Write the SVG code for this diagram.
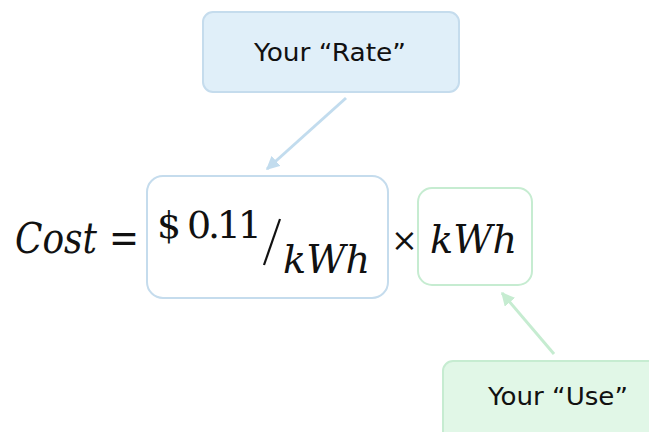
<svg xmlns="http://www.w3.org/2000/svg" width="649" height="432" viewBox="0 0 649 432">
<defs>
<style>
.lbl{font-family:"DejaVu Sans","Verdana",sans-serif;font-size:25px;fill:#111;text-anchor:middle}
.m{font-family:"DejaVu Serif","Liberation Serif",serif;fill:#111}
.mi{font-style:italic}
</style>
<marker id="ab" viewBox="0 0 10 10" refX="9" refY="5" markerWidth="4.5" markerHeight="4.5" orient="auto"><path d="M0,0 L10,5 L0,10 z" fill="#c2dcee"/></marker>
<marker id="ag" viewBox="0 0 10 10" refX="9" refY="5" markerWidth="4.5" markerHeight="4.5" orient="auto"><path d="M0,0 L10,5 L0,10 z" fill="#c6ecd1"/></marker>
</defs>
<rect width="649" height="432" fill="#fff"/>
<g id="rate">
<rect x="203" y="12" width="256" height="80" rx="10" fill="#e0eff9" stroke="#c5dced" stroke-width="2"/>
<text class="lbl" x="330" y="61" textLength="152" lengthAdjust="spacingAndGlyphs">Your “Rate”</text>
</g>
<g id="use">
<rect x="443" y="361" width="220" height="90" rx="10" fill="#e1f7e7" stroke="#c6ecd1" stroke-width="2"/>
<text class="lbl" x="558" y="405" textLength="140" lengthAdjust="spacingAndGlyphs">Your “Use”</text>
</g>
<g id="ratebox">
<rect x="147" y="176" width="241" height="122" rx="16" fill="none" stroke="#c5dced" stroke-width="2"/>
</g>
<g id="usebox">
<rect x="418" y="188" width="114" height="97" rx="14" fill="none" stroke="#c6ecd1" stroke-width="2"/>
</g>
<g id="equation">
<text class="m mi" x="15" y="253" font-size="42" textLength="82" lengthAdjust="spacingAndGlyphs">Cost</text>
<text class="m" x="109" y="253" font-size="42" textLength="30" lengthAdjust="spacingAndGlyphs">=</text>
<text class="m" x="157" y="238" font-size="38" textLength="105" lengthAdjust="spacing">$ 0.11</text>
<line x1="280" y1="219" x2="264" y2="265" stroke="#111" stroke-width="2.2"/>
<text class="m mi" x="283" y="273" font-size="40" textLength="87" lengthAdjust="spacingAndGlyphs">kWh</text>
<text class="m" x="391" y="251" font-size="32">×</text>
<text class="m mi" x="430" y="253" font-size="40" textLength="87" lengthAdjust="spacingAndGlyphs">kWh</text>
</g>
<g id="connectors">
<line x1="346" y1="98" x2="267" y2="169" stroke="#c2dcee" stroke-width="3" marker-end="url(#ab)"/>
<line x1="554" y1="354" x2="502" y2="293" stroke="#c6ecd1" stroke-width="3" marker-end="url(#ag)"/>
</g>
</svg>
